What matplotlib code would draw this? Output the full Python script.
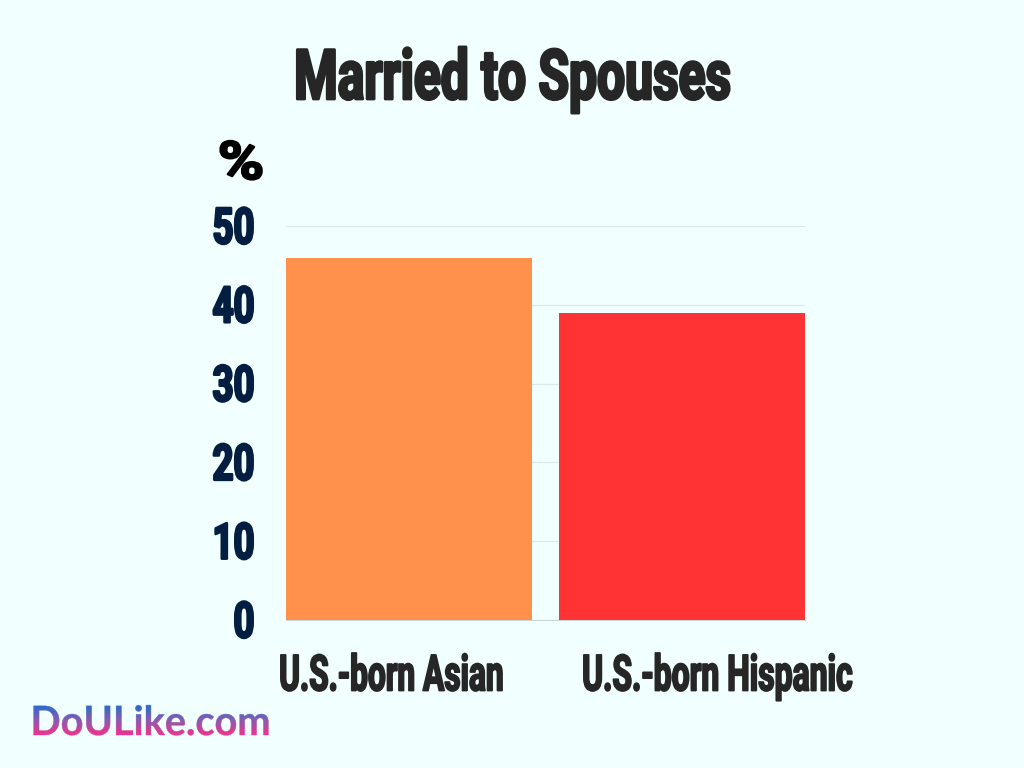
import matplotlib
matplotlib.use('Agg')
import matplotlib.pyplot as plt
import matplotlib.patheffects as pe
from matplotlib.text import Text
from matplotlib.transforms import Affine2D, Bbox
from matplotlib.colors import LinearSegmentedColormap
import numpy as np

categories = ['U.S.-born Asian', 'U.S.-born Hispanic']
values = [46, 39]
colors = ['#FF914D', '#FF3333']
yticks = [0, 10, 20, 30, 40, 50]
title = 'Married to Spouses'
unit = '%'
watermark = 'DoULike.com'

bg = '#F2FFFF'
W, H = 1024, 768
fig = plt.figure(figsize=(10.24, 7.68), dpi=100, facecolor=bg)
ax = fig.add_axes([286/W, 1-620/H, (805-286)/W, (620-226)/H], facecolor=bg)
ax.set_xlim(0, 2)
ax.set_ylim(0, 50)
ax.bar([0.4735, 1.5265], values, width=0.947, color=colors, zorder=3)
ax.set_yticks(yticks)
ax.grid(axis='y', color='#DCE8EC', lw=0.9, zorder=0)
ax.set_axisbelow(True)
for s in ['top', 'right', 'left']:
    ax.spines[s].set_visible(False)
ax.spines['bottom'].set_color('#C9D6DA')
ax.tick_params(length=0, labelleft=False, labelbottom=False)


def reshape(sx, sy, x0, y0):
    return Affine2D().translate(-x0, -y0).scale(sx, sy).translate(x0, y0)


class Squeeze(pe.AbstractPathEffect):
    """Draw a text's glyphs reshaped about its anchor, with a thickening stroke."""
    def __init__(self, sx, sy, x0, y0, stroke, color):
        super().__init__()
        self.m = reshape(sx, sy, x0, y0)
        self.stroke, self.color = stroke, color

    def draw_path(self, renderer, gc, tpath, affine, rgbFace):
        g = renderer.new_gc()
        g.copy_properties(gc)
        g.set_linewidth(self.stroke)
        g.set_foreground(self.color)
        renderer.draw_path(g, tpath, affine + self.m, rgbFace)
        g.restore()


class Gradient(pe.AbstractPathEffect):
    """Fill a text's glyphs with a vertical gradient, one pixel row at a time."""
    def __init__(self, sx, x0, y0, top, bottom, cmap):
        super().__init__()
        self.m = reshape(sx, 1, x0, y0)
        self.top, self.bottom, self.cmap = top, bottom, cmap

    def draw_path(self, renderer, gc, tpath, affine, rgbFace):
        for row in range(self.top - 4, self.bottom + 6):
            f = np.clip((row - self.top) / (self.bottom - self.top), 0, 1)
            g = renderer.new_gc()
            g.copy_properties(gc)
            g.set_linewidth(0.3)
            c = self.cmap(f)
            g.set_foreground(c)
            g.set_clip_rectangle(Bbox([[0, H-row-1], [W, H-row]]))
            renderer.draw_path(g, tpath, affine + self.m, c)
            g.restore()


class NarrowText(Text):
    """A Text that reports the extent of its squeezed glyphs."""
    sx = 1.0
    x0 = 0.0

    def get_window_extent(self, renderer=None, dpi=None):
        b = super().get_window_extent(renderer, dpi)
        return Bbox([[self.x0 + (b.x0 - self.x0)*self.sx, b.y0],
                     [self.x0 + (b.x1 - self.x0)*self.sx, b.y1]])


def narrow(x, y, s, size, color, sx, sy=1.0, stroke=1.4, font='Roboto', effect=None, **kw):
    t = NarrowText(x/W, 1-y/H, s, fontsize=size, color=color, family=font,
                   fontweight='bold', va='baseline', transform=fig.transFigure, **kw)
    t.sx, t.x0 = sx, x
    t.set_figure(fig)
    t.set_path_effects([effect or Squeeze(sx, sy, x, H-y, stroke, color)])
    fig.texts.append(t)
    return t


narrow(512.5, 99, title, 50, '#262626', 0.716, stroke=2.0, ha='center')
narrow(241, 179, unit, 38, '#000000', 1.2, stroke=1.6, ha='center')
for v in yticks:
    narrow(254.5, 620 - v*7.88 + 17.5, str(v), 36, '#041E42', 0.73, stroke=1.8, ha='right')
narrow(391.5, 690.5, categories[0], 32, '#262626', 0.712, sy=1.125, stroke=1.3, ha='center')
narrow(717.5, 690.5, categories[1], 32, '#262626', 0.718, sy=1.125, stroke=1.3, ha='center')

cmap = LinearSegmentedColormap.from_list('wm', ['#2F6BC8', '#8A5AB0', '#E8358F'])
narrow(30.5, 735, watermark, 29, '#8A50B0', 0.985, font='Lato',
       effect=Gradient(0.985, 30.5, H-735, 706, 733, cmap), ha='left')
fig.savefig('out.png', dpi=100, facecolor=bg)
